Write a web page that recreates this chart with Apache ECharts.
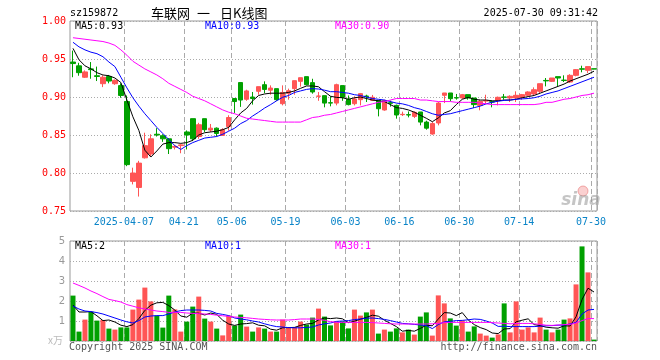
<!DOCTYPE html>
<html><head><meta charset="utf-8">
<script src="https://cdn.jsdelivr.net/npm/echarts@6/dist/echarts.min.js"></script>
<style>html,body{margin:0;padding:0;background:#fff}#c{width:660px;height:360px}</style>
</head><body><div id="c"></div>
<script>
const categories = [
'2025-03-24','2025-03-25','2025-03-26','2025-03-27','2025-03-28','2025-03-31',
'2025-04-01','2025-04-02','2025-04-03','2025-04-07','2025-04-08','2025-04-09','2025-04-10','2025-04-11',
'2025-04-14','2025-04-15','2025-04-16','2025-04-17','2025-04-18',
'2025-04-21','2025-04-22','2025-04-23','2025-04-24','2025-04-25',
'2025-04-28','2025-04-29','2025-04-30',
'2025-05-06','2025-05-07','2025-05-08','2025-05-09',
'2025-05-12','2025-05-13','2025-05-14','2025-05-15','2025-05-16',
'2025-05-19','2025-05-20','2025-05-21','2025-05-22','2025-05-23',
'2025-05-26','2025-05-27','2025-05-28','2025-05-29','2025-05-30',
'2025-06-03','2025-06-04','2025-06-05','2025-06-06',
'2025-06-09','2025-06-10','2025-06-11','2025-06-12','2025-06-13',
'2025-06-16','2025-06-17','2025-06-18','2025-06-19','2025-06-20',
'2025-06-23','2025-06-24','2025-06-25','2025-06-26','2025-06-27',
'2025-06-30',
'2025-07-01','2025-07-02','2025-07-03','2025-07-04',
'2025-07-07','2025-07-08','2025-07-09','2025-07-10','2025-07-11',
'2025-07-14','2025-07-15','2025-07-16','2025-07-17','2025-07-18',
'2025-07-21','2025-07-22','2025-07-23','2025-07-24','2025-07-25',
'2025-07-28','2025-07-29','2025-07-30'];

const tickDates  = ['2025-04-07','2025-04-21','2025-05-06','2025-05-19','2025-06-03','2025-06-16','2025-06-30','2025-07-14','2025-07-30'];
const tickLabels = ['2025-04-07','04-21','05-06','05-19','06-03','06-16','06-30','07-14','07-30'];

const opens = [
0.946,0.941,0.926,0.937,0.928,0.9175,0.927,0.9175,0.915,0.894,
0.789,0.781,0.820,0.825,0.851,0.849,0.845,0.834,0.836,0.854,
0.8715,0.848,0.8715,0.8565,0.859,0.8495,0.861,0.898,0.919,0.897,
0.900,0.9075,0.9162,0.909,0.911,0.8912,0.9048,0.911,0.9206,0.9268,
0.9189,0.9009,0.9018,0.8925,0.892,0.915,0.897,0.8912,0.8965,0.9013,
0.8956,0.8956,0.8829,0.8925,0.889,0.8768,0.8768,0.8745,0.8803,0.867,
0.8513,0.8658,0.9022,0.9053,0.8991,0.8987,0.9031,0.8987,0.889,0.8947,
0.8938,0.8956,0.9,0.8987,0.8987,0.8996,0.9022,0.904,0.9075,0.9218,
0.9206,0.9268,0.9222,0.9197,0.9285,0.9371,0.9351,0.9371];
const closes = [
0.944,0.932,0.933,0.936,0.927,0.926,0.921,0.922,0.902,0.811,
0.800,0.813,0.836,0.845,0.850,0.845,0.832,0.835,0.837,0.850,
0.845,0.8635,0.857,0.859,0.852,0.857,0.873,0.894,0.896,0.908,
0.898,0.9136,0.910,0.9118,0.8965,0.906,0.9083,0.9215,0.9254,0.9162,
0.9066,0.9013,0.892,0.892,0.9162,0.8996,0.890,0.8974,0.9044,0.9005,
0.8996,0.8846,0.8952,0.8917,0.8763,0.8772,0.8763,0.8798,0.867,0.859,
0.865,0.892,0.9053,0.8978,0.8987,0.9031,0.8987,0.890,0.8943,0.8952,
0.8934,0.8996,0.8996,0.9009,0.9022,0.9031,0.9066,0.9096,0.9175,0.9212,
0.925,0.925,0.9218,0.9285,0.936,0.9366,0.940,0.9368];
const lows = [
0.926,0.928,0.925,0.924,0.921,0.913,0.918,0.916,0.899,0.809,
0.785,0.769,0.819,0.822,0.848,0.841,0.825,0.831,0.826,0.831,
0.842,0.845,0.854,0.854,0.848,0.849,0.8557,0.879,0.887,0.895,
0.890,0.903,0.905,0.903,0.895,0.889,0.8965,0.903,0.9136,0.9153,
0.9044,0.895,0.8864,0.8877,0.889,0.895,0.889,0.889,0.889,0.8934,
0.8947,0.8745,0.882,0.8873,0.8715,0.875,0.8732,0.8723,0.8627,0.857,
0.8504,0.8627,0.892,0.8943,0.8965,0.8978,0.8965,0.8855,0.8825,0.891,
0.8864,0.889,0.8965,0.8934,0.8934,0.8965,0.9009,0.9022,0.9053,0.914,
0.9197,0.914,0.9197,0.9184,0.9272,0.9325,0.9316,0.9366];
const highs = [
0.961,0.945,0.935,0.946,0.940,0.9285,0.929,0.923,0.918,0.902,
0.807,0.816,0.853,0.851,0.859,0.851,0.846,0.837,0.838,0.856,
0.8715,0.866,0.8715,0.8645,0.860,0.859,0.876,0.898,0.919,0.9096,
0.9066,0.9136,0.9206,0.9153,0.911,0.9153,0.911,0.9215,0.9254,0.9268,
0.924,0.9066,0.9018,0.901,0.9175,0.915,0.902,0.9009,0.9053,0.903,
0.9027,0.8956,0.8965,0.8952,0.890,0.8807,0.881,0.881,0.8803,0.8688,
0.867,0.8934,0.9053,0.9053,0.904,0.904,0.9031,0.8987,0.8965,0.903,
0.8952,0.9005,0.904,0.9022,0.9075,0.904,0.9075,0.9127,0.9175,0.925,
0.925,0.9268,0.9285,0.930,0.9368,0.9412,0.940,0.9371];

const ma5 = [
0.964,0.949,0.941,0.937,0.932,0.929,0.928,0.925,0.919,0.896,
0.874,0.856,0.830,0.821,0.829,0.838,0.840,0.840,0.839,0.840,
0.843,0.850,0.853,0.854,0.855,0.857,0.860,0.870,0.879,0.885,
0.895,0.902,0.904,0.905,0.905,0.905,0.906,0.908,0.9114,0.9145,
0.9145,0.9135,0.907,0.901,0.8995,0.899,0.897,0.899,0.900,0.898,
0.896,0.895,0.894,0.890,0.886,0.885,0.883,0.880,0.876,0.872,
0.8675,0.8725,0.879,0.882,0.890,0.897,0.8995,0.897,0.896,0.896,
0.895,0.895,0.896,0.896,0.897,0.899,0.9005,0.902,0.905,0.908,
0.911,0.914,0.917,0.921,0.924,0.927,0.930,0.934];
const ma10 = [
0.972,0.966,0.962,0.959,0.957,0.953,0.946,0.940,0.926,0.912,
0.899,0.888,0.878,0.869,0.860,0.852,0.844,0.836,0.831,0.836,
0.840,0.843,0.846,0.847,0.848,0.851,0.855,0.859,0.865,0.869,
0.875,0.880,0.8855,0.890,0.895,0.8996,0.902,0.906,0.908,0.910,
0.911,0.9105,0.909,0.907,0.907,0.906,0.905,0.903,0.902,0.900,
0.898,0.897,0.896,0.894,0.892,0.891,0.889,0.886,0.884,0.881,
0.878,0.876,0.877,0.878,0.880,0.882,0.884,0.886,0.888,0.891,
0.893,0.8945,0.8955,0.896,0.897,0.8975,0.898,0.899,0.901,0.904,
0.906,0.908,0.911,0.914,0.917,0.920,0.923,0.926];
const ma30 = [
0.978,0.977,0.976,0.975,0.974,0.973,0.971,0.968,0.962,0.955,
0.947,0.942,0.937,0.933,0.929,0.924,0.918,0.914,0.910,0.906,
0.901,0.898,0.895,0.891,0.887,0.883,0.880,0.878,0.875,0.872,
0.871,0.870,0.869,0.868,0.867,0.867,0.867,0.867,0.867,0.870,
0.873,0.874,0.876,0.877,0.879,0.881,0.883,0.885,0.887,0.889,
0.891,0.893,0.894,0.896,0.898,0.898,0.898,0.898,0.896,0.896,
0.895,0.894,0.894,0.894,0.893,0.893,0.893,0.893,0.892,0.891,
0.890,0.890,0.890,0.890,0.890,0.890,0.890,0.890,0.891,0.893,
0.893,0.895,0.897,0.898,0.900,0.902,0.903,0.905];

const volumes = [
2.27,0.47,1.07,1.47,1.02,1.05,0.62,0.57,0.68,0.68,
1.57,2.07,2.67,1.98,1.27,0.67,2.27,1.58,0.47,0.97,
1.72,2.22,1.12,0.97,0.62,0.28,1.27,0.77,1.32,0.72,
0.47,0.68,0.62,0.47,0.47,1.07,0.70,0.70,0.97,0.82,
1.17,1.62,1.22,0.78,0.98,0.98,0.63,1.57,1.27,1.43,
1.57,0.37,0.57,0.47,0.63,0.43,0.57,0.32,1.22,1.43,
0.27,2.28,1.88,1.13,0.77,1.02,0.47,0.73,0.37,0.27,
0.17,0.33,1.88,0.43,1.98,0.57,0.68,0.43,1.17,0.57,
0.43,0.57,1.07,1.13,2.83,4.73,3.43,0.07];
const volMa5 = [
1.80,1.45,1.45,1.47,1.26,1.02,1.05,0.95,0.79,0.72,
0.82,1.12,1.53,1.79,1.91,1.93,1.77,1.55,1.25,1.19,
1.40,1.39,1.30,1.40,1.33,1.04,0.85,0.78,0.85,0.87,
0.91,0.79,0.76,0.59,0.54,0.66,0.67,0.68,0.78,0.85,
0.88,1.05,1.15,1.12,1.15,1.11,0.92,0.99,1.09,1.18,
1.29,1.24,1.04,0.88,0.72,0.49,0.53,0.49,0.63,0.79,
0.76,1.10,1.42,1.40,1.27,1.42,1.05,0.82,0.67,0.57,
0.40,0.37,0.60,0.62,0.96,1.04,1.11,0.82,0.77,0.69,
0.66,0.64,0.76,0.75,1.21,2.07,2.64,2.45];
const volMa10 = [
1.75,1.60,1.50,1.47,1.42,1.35,1.25,1.15,1.05,0.96,
0.90,1.02,1.20,1.25,1.27,1.27,1.35,1.45,1.52,1.55,
1.55,1.55,1.53,1.50,1.38,1.33,1.27,1.15,1.10,1.06,
1.00,0.95,0.86,0.78,0.72,0.70,0.67,0.66,0.66,0.68,
0.70,0.80,0.86,0.90,0.98,1.00,1.02,1.07,1.10,1.14,
1.15,1.12,1.08,1.02,0.95,0.88,0.86,0.83,0.80,0.77,
0.62,0.82,0.96,0.98,1.02,1.03,1.06,1.10,1.08,1.00,
0.90,0.73,0.74,0.72,0.72,0.72,0.72,0.72,0.74,0.76,
0.77,0.79,0.80,0.85,0.93,1.35,1.55,1.58];
const volMa30 = [
2.90,2.78,2.65,2.50,2.37,2.22,2.08,2.02,1.95,1.82,
1.74,1.66,1.60,1.55,1.50,1.47,1.43,1.43,1.43,1.40,
1.38,1.37,1.35,1.33,1.29,1.26,1.23,1.20,1.18,1.16,
1.13,1.10,1.08,1.06,1.05,1.05,1.05,1.07,1.10,1.10,
1.10,1.08,1.03,0.97,0.93,0.93,0.93,0.93,0.93,0.93,
0.92,0.90,0.88,0.86,0.85,0.85,0.85,0.85,0.85,0.85,
0.86,0.88,0.92,0.93,0.93,0.93,0.93,0.93,0.93,0.93,
0.92,0.90,0.88,0.86,0.87,0.88,0.88,0.86,0.83,0.79,
0.78,0.80,0.82,0.83,0.90,1.02,1.12,1.12];

const priceLegend = ['MA5:0.93','MA10:0.93','MA30:0.90'];
const volLegend = ['MA5:2','MA10:1','MA30:1'];
const titleParts = ['车联网', '一', '日K线图'];

const MONO = '"DejaVu Sans Mono", monospace';
const CJK = '13px "Noto Sans CJK SC", sans-serif';
const UP = '#ff5555', DOWN = '#00a000';
const C5 = '#000000', C10 = '#0000ff', C30 = '#ff00ff';

const isTick = (i) => tickDates.indexOf(categories[i]) >= 0;
const kData = categories.map((_, i) => [opens[i], closes[i], lows[i], highs[i]]);
const volData = categories.map((_, i) => ({
  value: volumes[i],
  itemStyle: { color: closes[i] > opens[i] ? UP : DOWN }
}));

function xAx(idx, showLabel) {
  return {
    type: 'category', gridIndex: idx, data: categories, boundaryGap: true,
    axisLine: { show: false }, axisTick: { show: false },
    axisLabel: {
      show: showLabel, interval: (i) => isTick(i),
      formatter: (v) => tickLabels[tickDates.indexOf(v)],
      color: '#0a84c8', fontFamily: MONO, fontSize: 10, margin: 6,
      padding: [0, 6, 0, 0]
    },
    splitLine: { show: true, interval: (i) => isTick(i),
      lineStyle: { color: '#aaaaaa', type: [5, 3], width: 1 } }
  };
}
function lineS(data, color, xi, yi, name) {
  return { name, type: 'line', xAxisIndex: xi, yAxisIndex: yi, data, symbol: 'none',
    smooth: false, lineStyle: { color, width: 1 }, itemStyle: { color }, z: 5, silent: true };
}
function txt(x, y, text, fill, align, font) {
  return { type: 'text', x, y, z: 100, silent: true,
    style: { text, fill, font: font || ('10px ' + MONO), textAlign: align || 'left',
      align: align || 'left', textVerticalAlign: 'middle', verticalAlign: 'middle' } };
}

const chart = echarts.init(document.getElementById('c'), null, { renderer: 'canvas' });
chart.setOption({
  animation: false,
  backgroundColor: '#ffffff',
  grid: [
    { left: 70, top: 21, width: 527, height: 190, show: true, borderColor: '#999999', borderWidth: 1, backgroundColor: 'transparent' },
    { left: 70, top: 241, width: 527, height: 100, show: true, borderColor: '#999999', borderWidth: 1, backgroundColor: 'transparent' }
  ],
  xAxis: [xAx(0, true), xAx(1, false)],
  yAxis: [
    { type: 'value', gridIndex: 0, min: 0.75, max: 1.0, interval: 0.05, scale: false,
      axisLine: { show: false }, axisTick: { show: false },
      axisLabel: { color: '#ff0000', fontFamily: MONO, fontSize: 10, margin: 4, formatter: (v) => v.toFixed(2) },
      splitLine: { show: true, lineStyle: { color: '#aaaaaa', type: [1, 2], width: 1 } } },
    { type: 'value', gridIndex: 1, min: 0, max: 5, interval: 1,
      axisLine: { show: false }, axisTick: { show: false },
      axisLabel: { color: '#999999', fontFamily: '"DejaVu Sans", sans-serif', fontSize: 10, margin: 5,
        formatter: (v) => v === 0 ? '' : String(v) },
      splitLine: { show: true, lineStyle: { color: '#aaaaaa', type: [1, 2], width: 1 } } }
  ],
  series: [
    { type: 'candlestick', xAxisIndex: 0, yAxisIndex: 0, data: kData, barWidth: 5, silent: true,
      itemStyle: { color: UP, color0: DOWN, borderColor: UP, borderColor0: DOWN, borderWidth: 1 } },
    lineS(ma5, C5, 0, 0, 'MA5'),
    lineS(ma10, C10, 0, 0, 'MA10'),
    lineS(ma30, C30, 0, 0, 'MA30'),
    { type: 'bar', xAxisIndex: 1, yAxisIndex: 1, data: volData, barWidth: 5, silent: true },
    lineS(volMa5, C5, 1, 1, 'VMA5'),
    lineS(volMa10, C10, 1, 1, 'VMA10'),
    lineS(volMa30, C30, 1, 1, 'VMA30')
  ],
  graphic: [
    txt(70, 13.5, 'sz159872', '#000'),
    txt(151, 13, titleParts[0], '#000', 'left', CJK),
    txt(197, 13, titleParts[1], '#000', 'left', CJK),
    txt(220, 13, titleParts[2], '#000', 'left', CJK),
    txt(598, 13.5, '2025-07-30 09:31:42', '#000', 'right'),
    txt(75, 26, priceLegend[0], C5),
    txt(205, 26, priceLegend[1], C10),
    txt(335, 26, priceLegend[2], C30),
    txt(75, 246.5, volLegend[0], C5),
    txt(205, 246.5, volLegend[1], C10),
    txt(335, 246.5, volLegend[2], C30),
    txt(48, 340.5, 'x万', '#bbbbbb', 'left', '10px "Noto Sans CJK SC", sans-serif'),
    txt(69, 347, 'Copyright 2025 SINA.COM', '#555555'),
    txt(597, 347, 'http://finance.sina.com.cn', '#555555', 'right'),
    { type: 'circle', shape: { cx: 583, cy: 191, r: 5 }, z: 1, silent: true,
      style: { fill: 'rgba(240,120,120,0.35)', stroke: 'rgba(230,100,100,0.5)', lineWidth: 1 } },
    txt(581, 201, 'sina', 'rgba(150,150,150,0.55)', 'center', 'italic bold 17px "DejaVu Sans", sans-serif')
  ]
});
</script>
</body></html>
